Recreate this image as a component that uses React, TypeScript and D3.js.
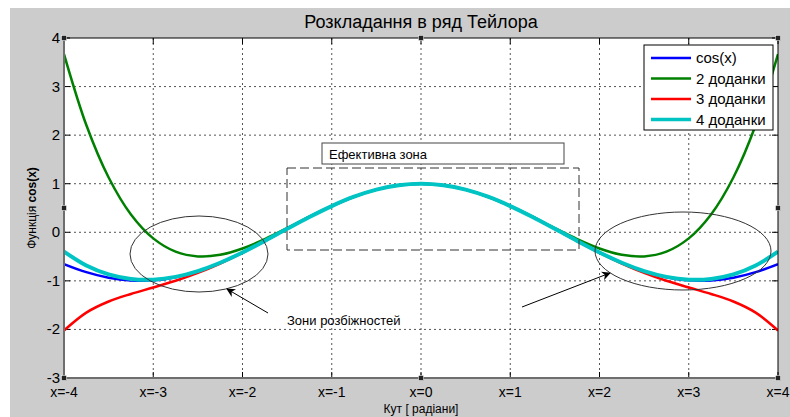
import React from 'react';
import * as d3 from 'd3';

// x sample points (radians)
const xs = [-4, -3.75, -3.5, -3.25, -3, -2.75, -2.5, -2.25, -2, -1.75, -1.5, -1.25, -1, -0.75, -0.5, -0.25,
  0, 0.25, 0.5, 0.75, 1, 1.25, 1.5, 1.75, 2, 2.25, 2.5, 2.75, 3, 3.25, 3.5, 3.75, 4];

// values, -4 .. 4
const cosVals = [-0.654, -0.821, -0.936, -0.994, -0.99, -0.924, -0.801, -0.628, -0.416, -0.178, 0.071, 0.315, 0.54, 0.732, 0.878, 0.969,
  1, 0.969, 0.878, 0.732, 0.54, 0.315, 0.071, -0.178, -0.416, -0.628, -0.801, -0.924, -0.99, -0.994, -0.936, -0.821, -0.654];
const twoTerms = [3.667, 2.208, 1.128, 0.367, -0.125, -0.398, -0.497, -0.463, -0.333, -0.14, 0.086, 0.32, 0.542, 0.732, 0.878, 0.969,
  1, 0.969, 0.878, 0.732, 0.542, 0.32, 0.086, -0.14, -0.333, -0.463, -0.497, -0.398, -0.125, 0.367, 1.128, 2.208, 3.667];
const threeTerms = [-2.022, -1.654, -1.425, -1.27, -1.138, -0.999, -0.836, -0.643, -0.422, -0.18, 0.07, 0.315, 0.54, 0.732, 0.878, 0.969,
  1, 0.969, 0.878, 0.732, 0.54, 0.315, 0.07, -0.18, -0.422, -0.643, -0.836, -0.999, -1.138, -1.27, -1.425, -1.654, -2.022];
const fourTerms = [-0.397, -0.684, -0.867, -0.961, -0.975, -0.918, -0.798, -0.627, -0.416, -0.178, 0.071, 0.315, 0.54, 0.732, 0.878, 0.969,
  1, 0.969, 0.878, 0.732, 0.54, 0.315, 0.071, -0.178, -0.416, -0.627, -0.798, -0.918, -0.975, -0.961, -0.867, -0.684, -0.397];

const xTicks = [-4, -3, -2, -1, 0, 1, 2, 3, 4];
const yTicks = [-3, -2, -1, 0, 1, 2, 3, 4];
const legendNames = ['cos(x)', '2 доданки', '3 доданки', '4 доданки'];

const series = [
  { name: legendNames[0], values: cosVals, color: '#0000ff', width: 2.5 },
  { name: legendNames[1], values: twoTerms, color: '#008000', width: 2.5 },
  { name: legendNames[2], values: threeTerms, color: '#ff0000', width: 2.5 },
  { name: legendNames[3], values: fourTerms, color: '#00c4c4', width: 4 },
];

const W = 790;
const H = 417;
const left = 64, right = 778, top = 38, bottom = 378;
const font = 'Liberation Sans, Arial, sans-serif';

const App: React.FC = () => {
  const x = d3.scaleLinear().domain([-4, 4]).range([left, right]);
  const y = d3.scaleLinear().domain([-3, 4]).range([bottom, top]);

  const line = d3.line<number>()
    .x((_, i) => x(xs[i]))
    .y(d => y(d))
    .curve(d3.curveCatmullRom);

  const midX = (left + right) / 2;
  const midY = (top + bottom) / 2;
  const handles = [
    [left, top], [midX, top], [right, top],
    [left, midY], [right, midY],
    [left, bottom], [midX, bottom], [right, bottom],
  ];

  return (
    <div style={{ position: 'fixed', left: 0, top: 0 }}>
      <svg width={W} height={H} viewBox={`0 0 ${W} ${H}`} style={{ display: 'block', fontFamily: font }}>
        <defs>
          <clipPath id="plot-clip">
            <rect x={left} y={top} width={right - left} height={bottom - top} />
          </clipPath>
          <marker id="arrow" viewBox="0 0 10 10" refX="9" refY="5" markerWidth="9" markerHeight="9" orient="auto">
            <path d="M0,0 L10,5 L0,10 L3,5 Z" fill="#000" />
          </marker>
        </defs>
        <rect x={0} y={0} width={W} height={H} fill="#fff" />
        <rect x={10} y={8} width={W - 10} height={H - 8} fill="#cccccc" />
        <rect x={left} y={top} width={right - left} height={bottom - top} fill="#fff" />

        {/* grid */}
        {xTicks.slice(1, -1).map(t => (
          <line key={'gx' + t} x1={x(t)} x2={x(t)} y1={top} y2={bottom} stroke="#555" strokeWidth={1} strokeDasharray="2,3" />
        ))}
        {yTicks.slice(1, -1).map(t => (
          <line key={'gy' + t} x1={left} x2={right} y1={y(t)} y2={y(t)} stroke="#555" strokeWidth={1} strokeDasharray="2,3" />
        ))}
        {/* tick marks */}
        {xTicks.map(t => (
          <g key={'tx' + t}>
            <line x1={x(t)} x2={x(t)} y1={bottom} y2={bottom - 6} stroke="#000" />
            <line x1={x(t)} x2={x(t)} y1={top} y2={top + 6} stroke="#000" />
          </g>
        ))}
        {yTicks.map(t => (
          <g key={'ty' + t}>
            <line x1={left} x2={left + 6} y1={y(t)} y2={y(t)} stroke="#000" />
            <line x1={right} x2={right - 6} y1={y(t)} y2={y(t)} stroke="#000" />
          </g>
        ))}

        {/* curves */}
        <g clipPath="url(#plot-clip)">
          {series.map(s => (
            <path key={s.name} d={line(s.values) || ''} fill="none" stroke={s.color} strokeWidth={s.width} />
          ))}
        </g>

        {/* axes box */}
        <line x1={left} x2={right} y1={top} y2={top} stroke="#000" />
        <line x1={right} x2={right} y1={top} y2={bottom} stroke="#000" />
        <line x1={left} x2={left} y1={top} y2={bottom} stroke="#6e6e6e" strokeWidth={2} />
        <line x1={left} x2={right} y1={bottom} y2={bottom} stroke="#6e6e6e" strokeWidth={2} />

        {/* tick labels */}
        {xTicks.map(t => (
          <text key={'lx' + t} x={x(t)} y={397} textAnchor="middle" fontSize={14} fill="#000">{`x=${t}`}</text>
        ))}
        {yTicks.map(t => (
          <text key={'ly' + t} x={60} y={y(t) + 5} textAnchor="end" fontSize={15} fill="#000">{t}</text>
        ))}

        {/* titles */}
        <text x={midX} y={28} textAnchor="middle" fontSize={18} fill="#000">Розкладання в ряд Тейлора</text>
        <text x={midX} y={413} textAnchor="middle" fontSize={12} fill="#000">Кут [ радіани]</text>
        <text transform={`translate(36,${midY}) rotate(-90)`} textAnchor="middle" fontSize={12} fill="#000">
          Функція <tspan fontWeight="bold">cos(x)</tspan>
        </text>

        {/* annotations */}
        <rect x={322} y={143} width={242} height={21} fill="#fff" stroke="#444" strokeWidth={1} />
        <text x={329} y={159} fontSize={13} fill="#000">Ефективна зона</text>
        <rect x={287} y={168} width={292} height={82} fill="none" stroke="#333" strokeWidth={1} strokeDasharray="9,4" />
        <ellipse cx={199} cy={254} rx={69} ry={38} fill="none" stroke="#333" strokeWidth={1} />
        <ellipse cx={683} cy={251} rx={88} ry={39} fill="none" stroke="#333" strokeWidth={1} />
        <line x1={268} y1={313} x2={227} y2={289} stroke="#000" strokeWidth={1} markerEnd="url(#arrow)" />
        <line x1={522} y1={307} x2={610} y2={273} stroke="#000" strokeWidth={1} markerEnd="url(#arrow)" />
        <text x={287} y={325} fontSize={13} fill="#000">Зони розбіжностей</text>

        {/* legend */}
        <rect x={644} y={45} width={129} height={85} fill="#fff" stroke="#000" strokeWidth={1} />
        {series.map((s, i) => (
          <g key={'lg' + s.name} transform={`translate(651,${58 + i * 20.5})`}>
            <line x1={0} x2={40} y1={0} y2={0} stroke={s.color} strokeWidth={s.width === 4 ? 3.5 : 2.5} />
            <text x={45} y={5} fontSize={15} fill="#000">{s.name}</text>
          </g>
        ))}

        {/* selection handles */}
        {handles.map(([hx, hy], i) => (
          <rect key={'h' + i} x={hx - 2.5} y={hy - 2.5} width={5} height={5} fill="#222" stroke="#fff" strokeWidth={0.5} />
        ))}
      </svg>
    </div>
  );
};

export default App;
